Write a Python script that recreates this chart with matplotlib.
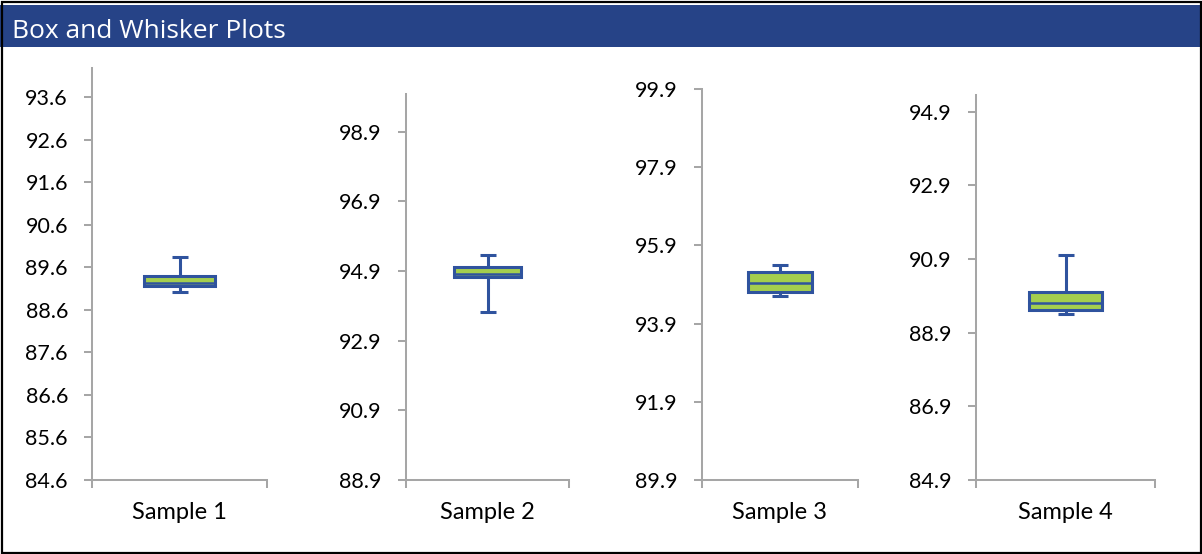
import numpy as np
import matplotlib
matplotlib.use('Agg')
import matplotlib.pyplot as plt
from matplotlib.patches import Rectangle

# values
samples = ['Sample 1', 'Sample 2', 'Sample 3', 'Sample 4']
whisker_low = [89.02, 93.72, 94.61, 89.41]
q1 = [89.15, 94.73, 94.71, 89.51]
median = [89.22, 94.80, 94.93, 89.71]
q3 = [89.40, 95.02, 95.21, 90.00]
whisker_high = [89.83, 95.36, 95.41, 91.01]

# y axis of each panel
axis_min = [84.6, 88.9, 89.9, 84.9]
axis_max = [94.28, 99.98, 99.9, 95.35]
tick_step = [1.0, 2.0, 2.0, 2.0]
tick_top = [93.6, 98.9, 99.9, 94.9]

W, H = 1202, 554
# panel boxes in pixels: x0, y0 (top), x1, y1 (bottom)
panels = [(92, 68, 267, 480), (406, 94, 569, 480),
          (702, 89, 858, 480), (976, 95, 1155, 480)]

header_blue = '#264387'
box_blue = '#2F539E'
box_green = '#A4CE4E'
axis_gray = '#A6A6A6'
tick_font = 'Lato'

fig = plt.figure(figsize=(W / 100, H / 100), dpi=100)

# title bar and frame
fig.patches.append(Rectangle((0, 1 - 47 / H), 1, 42 / H, transform=fig.transFigure,
                             facecolor=header_blue, edgecolor='none', zorder=0))
fig.patches.append(Rectangle((1.5 / W, 1.5 / H), 1 - 3 / W, 1 - 3 / H, transform=fig.transFigure,
                             facecolor='none', edgecolor='black', linewidth=1.6, zorder=5))
fig.text(12 / W, 1 - 37.5 / H, 'Box and Whisker Plots', color='white',
         fontsize=19, family='Open Sans', va='baseline', ha='left')

for i, (x0, y0, x1, y1) in enumerate(panels):
    ax = fig.add_axes([x0 / W, 1 - y1 / H, (x1 - x0) / W, (y1 - y0) / H])
    stats = [dict(whislo=whisker_low[i], q1=q1[i], med=median[i], q3=q3[i],
                  whishi=whisker_high[i], fliers=[])]
    ax.bxp(stats, positions=[0.5], widths=0.41, capwidths=16 / (x1 - x0),
           patch_artist=True, showfliers=False, manage_ticks=False,
           boxprops=dict(facecolor=box_green, edgecolor=box_blue, linewidth=2.2),
           medianprops=dict(color=box_blue, linewidth=1.8),
           whiskerprops=dict(color=box_blue, linewidth=2.2, solid_capstyle='butt'),
           capprops=dict(color=box_blue, linewidth=2.2, solid_capstyle='butt'))

    ax.set_xlim(0, 1)
    ax.set_ylim(axis_min[i], axis_max[i])
    ticks = np.round(np.arange(axis_min[i], tick_top[i] + 0.01, tick_step[i]), 1)
    ax.set_yticks(ticks)
    ax.set_yticklabels(['%.1f' % t for t in ticks], family=tick_font, fontsize=15.5)

    ax.set_xticks([0, 1])
    ax.set_xticklabels([])
    ax.set_xticks([0.5], minor=True)
    ax.set_xticklabels([samples[i]], minor=True, family=tick_font, fontsize=17)

    ax.tick_params(axis='x', which='major', length=5.8, width=1.45, color=axis_gray, direction='out')
    ax.tick_params(axis='x', which='minor', length=0, pad=15.5)
    ax.tick_params(axis='y', length=5.8, width=1.45, color=axis_gray, pad=11.5)

    for side in ['top', 'right']:
        ax.spines[side].set_visible(False)
    for side in ['left', 'bottom']:
        ax.spines[side].set_color(axis_gray)
        ax.spines[side].set_linewidth(1.45)
    ax.patch.set_alpha(0)

fig.savefig('out.png', dpi=100)
